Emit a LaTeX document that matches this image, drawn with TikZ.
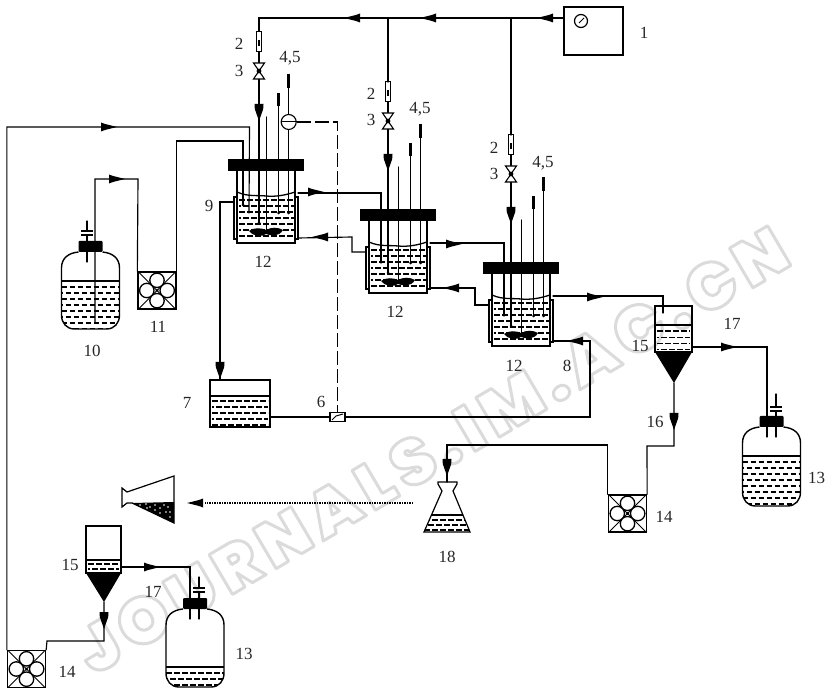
\documentclass[tikz,border=0pt]{standalone}
\usepackage{fontspec}
\setmainfont{Liberation Serif}
\newfontfamily\wmfont[LetterSpace=11]{Poppins Black}
\tikzset{
  pipe/.style={line width=1.15pt,line cap=round,line join=miter},
  hvy/.style={line width=1.6pt},
  liq/.style={line width=1.25pt,dash pattern=on 5.5pt off 2.5pt},
  lab/.style={font=\fontsize{17}{17}\selectfont,inner sep=0pt,text=black!85},
  lidbox/.style={fill=black,draw=none,minimum width=76pt,minimum height=12.5pt,inner sep=0pt},
  capbox/.style={fill=black,draw=none,minimum width=24pt,minimum height=11pt,inner sep=0pt,rounded corners=1pt},
  pumpbox/.style={draw=black,line width=1.3pt,minimum width=38pt,minimum height=37pt,inner sep=0pt},
  plainbox/.style={draw=black,line width=1.2pt,inner sep=0pt},
  ctrl/.style={line width=1.1pt,dash pattern=on 14pt off 4pt},
}
\newcommand\liqrows[5]{\foreach \n in {0,...,#5}{\pgfmathsetmacro\yy{#3+\n*#4}\pgfmathsetmacro\ph{mod(\n,2)*4}\draw[liq,dash phase=\ph pt] (#1,\yy) -- (#2,\yy);}}
\newcommand\flow[3]{\fill[shift={(#1,#2)},rotate=#3] (-8,-4.5) -- (-4,-3) -- (8,0) -- (-4,3) -- (-8,4.5) -- cycle;}
\newcommand\flowbig[3]{\fill[shift={(#1,#2)},rotate=#3] (-8,-4.5) -- (-3,-4.2) -- (9,0) -- (-3,4.2) -- (-8,4.5) -- cycle;}
\newcommand\probe[3]{\draw[pipe] (#1,#2) -- (#1,#3);\fill (#1,#3) circle (1.5);}
% id, lid x, lid y, inlet offset
\newcommand\reactor[4]{%
\begin{scope}[shift={(#2,#3)}]
  \liqrows{11}{66}{41}{6}{6}
  \draw[pipe,line width=1.3pt] (9,12) -- (9,84) -- (67,84) -- (67,12);
  \draw[pipe] (9,38) -- (6,38) -- (6,80) -- (9,80);
  \draw[pipe] (67,38) -- (70,38) -- (70,80) -- (67,80);
  \draw[pipe,line width=1.3pt] (9,33) .. controls (20,38) and (30,36) .. (38,37) .. controls (48,38) and (58,36) .. (67,33);
  \node[lidbox] (#1lid) at (38,6) {};
  \probe{38.5}{-42}{72}
  \probe{50.7}{-55}{54}
  \draw[line width=3pt] (50.7,-66) -- (50.7,-53);
  \probe{60.7}{-72}{54}
  \draw[line width=3pt] (60.7,-85) -- (60.7,-71);
  \fill (21,72) .. controls (26,68) and (34,69) .. (38,71) .. controls (43,68) and (50,68) .. (55,71) .. controls (51,78) and (43,77) .. (38,75) .. controls (34,78) and (26,78) .. (21,72) -- cycle;
  \coordinate (#1met) at (#4,-127);
  \coordinate (#1out) at (70,34);
  \coordinate (#1ret) at (70,79);
  \coordinate (#1jl) at (6,43);
  \coordinate (#1a) at (21,54);
  \coordinate (#1b) at (15,46);
  \draw[pipe] (#4,-88) -- (#4,64);
  \fill (#4,64) circle (1.5);
  \draw[hvy] (#4,-107) -- (#4,-80);
  \draw[hvy] (#4,-68) -- (#4,-50);
  \draw[line width=1pt,fill=white] (#4-2.5,-127) rectangle (#4+2.5,-107);
  \draw[line width=2pt] (#4,-119) -- (#4,-113);
  \draw[line width=1.1pt,fill=white] (#4-5.5,-96) -- (#4+5.5,-96) -- (#4-5.5,-80) -- (#4+5.5,-80) -- cycle;
  \fill (#4,-88) circle (2.4);
  \flowbig{#4}{-47}{-90}
\end{scope}}
\newcommand\pump[3]{%
\node[pumpbox] (#1) at (#2,#3) {};
\begin{scope}[shift={(#2,#3)}]
  \draw[line width=1pt] (-18,-18) -- (18,18) (-18,18) -- (18,-18);
  \foreach \a/\b in {-10.2/0,10.2/0,0/-10.2,0/10.2}{\draw[line width=1.3pt,fill=white] (\a,\b) circle (7.2);}
  \fill (0,0) circle (1.5);
\end{scope}}
% id, cx, top, height, liquid depth
\newcommand\bottle[5]{%
\begin{scope}[shift={(#2,#3)}]
  \begin{scope}
  \clip (-12,0) .. controls (-22,1) and (-29,6) .. (-29,16) -- (-29,#4-14) .. controls (-29,#4-6) and (-24,#4) .. (-16,#4) -- (16,#4) .. controls (24,#4) and (29,#4-6) .. (29,#4-14) -- (29,16) .. controls (29,6) and (22,1) .. (12,0) -- cycle;
  \liqrows{-29}{29}{#5+6}{6}{12}
  \fill[white] (-29,-8) rectangle (29,#5);
  \end{scope}
  \draw[line width=1.3pt] (-29,#5) -- (29,#5);
  \draw[line width=1.4pt] (-12,0) .. controls (-22,1) and (-29,6) .. (-29,16) -- (-29,#4-14) .. controls (-29,#4-6) and (-24,#4) .. (-16,#4) -- (16,#4) .. controls (24,#4) and (29,#4-6) .. (29,#4-14) -- (29,16) .. controls (29,6) and (22,1) .. (12,0);
  \node[capbox] (#1cap) at (0,-5.5) {};
\end{scope}}
\newcommand\vent[4]{%
\draw[pipe] (#1,#2) -- (#1,#3) (#1,#3+4) -- (#1,#4);
\draw[line width=1.1pt] (#1-6,#3) -- (#1+6,#3) (#1-6,#3+4) -- (#1+6,#3+4);}
\begin{document}
\begin{tikzpicture}[x=1pt,y=-1pt]
\useasboundingbox (0,0) rectangle (825,692);
% watermark
\node[inner sep=0pt,rotate=30.5] (wma) at (432,450) {\fontsize{65}{65}\selectfont\wmfont\special{pdf:code 1 Tr 1 J 1 j 3 w 0.86 G}JOURNALS.IM.AC.CN\special{pdf:code 0 Tr 0 G}};

% gauge
\node[plainbox,minimum width=59pt,minimum height=48pt] (gauge) at (593.5,31) {};
\draw[line width=1.2pt] (581,21) circle (6.5);
\draw[line width=1pt] (579,23) -- (584,18);
\coordinate (gaugeout) at (564,18);

% reactors
\reactor{ra}{228}{159}{31}
\reactor{rb}{360}{209}{28}
\reactor{rc}{483}{262}{28}

% gas line
\coordinate (tb) at (388,18);
\coordinate (tc) at (511,18);
\draw[line width=1.4pt] (gaugeout) -| (ramet);
\draw[pipe] (tb) -- (rbmet);
\draw[pipe] (tc) -- (rcmet);
\flow{352}{18}{180}
\flow{428}{18}{180}
\flow{545}{18}{180}

% reactor interconnections
\coordinate (ba) at (352,237);
\draw[pipe] (raout) -| (rba);
\flow{316}{192}{0}
\draw[pipe] (rbjl) -| (ba) -- (raret);
\flow{320}{237}{180}
\draw[pipe] (rbout) -| (rca);
\flow{454}{244}{0}
\coordinate (bb) at (475,288);
\draw[pipe] (rcjl) -| (bb) -- (rbret);
\flow{451}{288}{180}

% sensor
\node[draw=black,line width=1.1pt,circle,fill=white,minimum size=15pt,inner sep=0pt] (sensor) at (288.7,122) {};
\draw[line width=1pt] (sensor.west) -- (sensor.east);

% tank 7 and valve 6
\node[plainbox,minimum width=60pt,minimum height=47pt] (tankseven) at (240,403.5) {};
\draw[line width=1.5pt] (210,396) -- (270,396);
\liqrows{212}{268}{401}{6}{4}
\node[draw=black,line width=1.2pt,fill=white,minimum width=15pt,minimum height=9pt,inner sep=0pt] (valvesix) at (337.5,417) {};
\draw[line width=1pt] (332,420) -- (336,416) -- (343,414);
\coordinate (tankin) at (220,380);
\coordinate (tankout) at (270,417);
\draw[pipe] (rajl) -| (tankin);
\flowbig{220}{370}{-90}
\draw[pipe] (tankout) -- (valvesix.west);
\draw[ctrl] (sensor.east) -| (valvesix.north);
\coordinate (bc) at (590,417);
\draw[pipe] (rcret) -| (bc) -- (valvesix.east);
\flow{575}{341}{180}

% bottle 10 and pump 11
\bottle{bten}{90.5}{252}{77}{29}
\coordinate (tubeten) at (95,323);
\coordinate (tubetenb) at (138,179);
\vent{87}{221}{231}{262}
\pump{peleven}{157}{290.5}
\draw[pipe] (tubeten) |- (tubetenb) -- (peleven.north west);
\flow{117}{179}{0}
\coordinate (bd) at (243,141);
\draw[pipe] (peleven.north east) |- (bd) -- (rab);
\fill (243,205) circle (1.5);

% settler 15 right
\node[plainbox,minimum width=37pt,minimum height=46pt] (setr) at (673.5,329) {};
\draw[line width=1.4pt] (655,325) -- (692,325);
\liqrows{657}{690}{331}{6.2}{3}
\fill (655,352) -- (692,352) -- (674,383) -- cycle;
\coordinate (setrin) at (663,313);
\coordinate (setrout) at (692,347);
\coordinate (setrdown) at (674,383);
\draw[pipe] (rcout) -| (setrin);
\flow{595}{297}{0}

% bottle 13 right
\bottle{bthr}{771.5}{427}{79}{29}
\coordinate (tubethr) at (767,437);
\vent{776}{394}{407}{437}
\draw[pipe] (setrout) -| (tubethr);
\flow{729}{347}{0}

% pump 14 right and flask 18
\pump{pfr}{627.5}{513.5}
\coordinate (be) at (647,446);
\draw[pipe] (setrdown) |- (be) -- (pfr.north east);
\flowbig{674}{421}{-90}
\coordinate (flaskin) at (447,482);
\coordinate (bf) at (447,445);
\draw[pipe] (pfr.north west) |- (bf) -- (flaskin);
\flowbig{447}{467}{-90}

% flask 18
\begin{scope}
\clip (442,491) -- (453,491) -- (470,532) -- (424,532) -- cycle;
\liqrows{424}{470}{520}{5}{2}
\end{scope}
\draw[line width=1.3pt] (431,515) -- (463,515);
\draw[line width=1.2pt] (438,482) -- (457,482) -- (457,484) -- (453,491) -- (470,532) -- (424,532) -- (442,491) -- (438,484) -- cycle;

% dotted line and tilted flask
\coordinate (dota) at (413,503);
\coordinate (dotb) at (205,503);
\draw[line width=1.2pt,dash pattern=on 1.5pt off 1pt] (dota) -- (dotb);
\flow{195}{503}{180}
\fill (132,503) -- (174,502) -- (174,523) -- cycle;
\foreach \a/\b in {140/505,146/504,150/507,155/505,160/508,164/505,168/507,170/512,166/512,160/513,170/517,155/510,147/508}{\fill[white] (\a,\b) circle (0.9);}
\draw[line width=1.2pt] (127,492) -- (174,476) -- (174,523) -- (132,503) -- (127,503) -- (122,507) -- (122,488) -- cycle;

% settler 15 left
\node[plainbox,minimum width=35pt,minimum height=47pt] (setl) at (103.5,549.5) {};
\draw[line width=1.4pt] (86,560) -- (121,560);
\liqrows{88}{119}{564}{5}{1}
\fill (86,573) -- (121,573) -- (104,602) -- cycle;
\coordinate (setlout) at (121,567);
\coordinate (setldown) at (104,602);

% bottle 13 left
\bottle{bthl}{195}{609}{78}{58}
\coordinate (tubethl) at (190,619);
\vent{199}{577}{588}{619}
\draw[pipe] (setlout) -| (tubethl);
\flow{152}{567}{0}

% pump 14 left
\pump{pfl}{26.5}{669}
\coordinate (bg) at (47,641);
\draw[pipe] (setldown) |- (bg) -- (pfl.north east);
\flowbig{104}{620}{-90}
\coordinate (bh) at (249.5,127);
\draw[pipe] (pfl.north west) |- (bh) -- (raa);
\flow{109}{127}{0}

% labels
\node[lab] (n1) at (644,33) {1};
\node[lab] (n2a) at (239,44) {2};
\node[lab] (n3a) at (239,71) {3};
\node[lab] (n45a) at (290,58) {4,5};
\node[lab] (n2b) at (371,94) {2};
\node[lab] (n3b) at (371,120) {3};
\node[lab] (n45b) at (420,109) {4,5};
\node[lab] (n2c) at (494,148) {2};
\node[lab] (n3c) at (494,174) {3};
\node[lab] (n45c) at (543,163) {4,5};
\node[lab] (n6) at (321,402) {6};
\node[lab] (n7) at (187,403) {7};
\node[lab] (n8) at (567,366) {8};
\node[lab] (n9) at (209,206) {9};
\node[lab] (n10) at (92,351) {10};
\node[lab] (n11) at (158,327) {11};
\node[lab] (n12a) at (263,262) {12};
\node[lab] (n12b) at (395,312) {12};
\node[lab] (n12c) at (514,366) {12};
\node[lab,anchor=west] (n13a) at (808,478) {13};
\node[lab] (n13b) at (244,654) {13};
\node[lab] (n14a) at (664,517) {14};
\node[lab] (n14b) at (67,672) {14};
\node[lab] (n15a) at (640,346) {15};
\node[lab] (n15b) at (70,565) {15};
\node[lab] (n16) at (655,422) {16};
\node[lab] (n17a) at (732,324) {17};
\node[lab] (n17b) at (153,592) {17};
\node[lab] (n18) at (447,557) {18};
\end{tikzpicture}
\end{document}
